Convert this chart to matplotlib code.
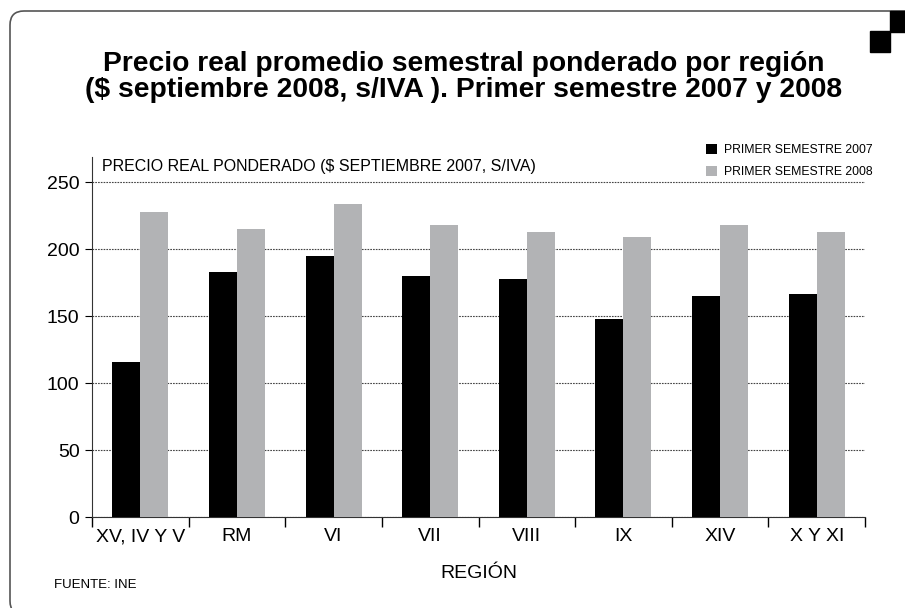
import matplotlib
matplotlib.use("Agg")
import matplotlib.pyplot as plt
from matplotlib.patches import FancyBboxPatch, Rectangle
import numpy as np

regions = ["XV, IV Y V", "RM", "VI", "VII", "VIII", "IX", "XIV", "X Y XI"]
sem_2007 = [116, 183, 195, 180, 178, 148, 165, 167]
sem_2008 = [228, 215, 234, 218, 213, 209, 218, 213]
series_names = ["PRIMER SEMESTRE 2007", "PRIMER SEMESTRE 2008"]
yticks = [0, 50, 100, 150, 200, 250]

plt.rcParams["font.family"] = ["Liberation Sans", "DejaVu Sans"]

W, H = 905, 608
fig = plt.figure(figsize=(W / 100, H / 100), dpi=100)
px = 1 / 100.0  # pixel -> inch

# rounded frame (in inch units so the corner is round) + black squares
frame = FancyBboxPatch((10 * px, (H - 615) * px), 950 * px, (615 - 11) * px,
                       boxstyle="round,pad=0,rounding_size=0.14",
                       transform=fig.dpi_scale_trans, fill=False,
                       edgecolor="#555555", linewidth=1.2)
fig.patches.append(frame)
fig.patches.append(Rectangle((890 / W, 1 - 32 / H), 15 / W, 21 / H,
                             transform=fig.transFigure, color="black"))
fig.patches.append(Rectangle((870 / W, 1 - 52 / H), 20 / W, 21 / H,
                             transform=fig.transFigure, color="black"))

fig.text(464 / W, 1 - 77 / H,
         "Precio real promedio semestral ponderado por región\n"
         "($ septiembre 2008, s/IVA ). Primer semestre 2007 y 2008",
         ha="center", va="center", fontsize=20.3, fontweight="bold", linespacing=1.0)

ax_top = 157
ax = fig.add_axes([92 / W, 91 / H, (865 - 92) / W, (517 - ax_top) / H])
x = np.arange(len(regions))
bw = 0.29
ax.bar(x - bw / 2, sem_2007, bw, color="black", label=series_names[0], zorder=3)
ax.bar(x + bw / 2, sem_2008, bw, color="#b2b3b5", label=series_names[1], zorder=3)

ax.set_xlim(-0.5, len(regions) - 0.5)
ax.set_ylim(0, 269)
ax.set_yticks(yticks)
ax.set_yticklabels([str(v) for v in yticks], fontsize=14)
ax.yaxis.grid(True, linestyle=(0, (1.5, 1)), color="#444444", linewidth=0.8, zorder=0)
ax.set_xticks(x)
ax.set_xticklabels(regions, fontsize=14)
ax.set_xticks(np.arange(len(regions) + 1) - 0.5, minor=True)
ax.tick_params(axis="x", which="major", length=0, pad=8)
ax.tick_params(axis="x", which="minor", length=7, width=1, direction="out")
ax.tick_params(axis="y", length=5, width=0.8, pad=4)
for s in ["top", "right"]:
    ax.spines[s].set_visible(False)
ax.spines["left"].set_color("#333333")
ax.spines["bottom"].set_color("#333333")

ax.set_xlabel("REGIÓN", fontsize=14, labelpad=14)
ax.text(10 / (865 - 92), 1 - 9 / (517 - ax_top),
        "PRECIO REAL PONDERADO ($ SEPTIEMBRE 2007, S/IVA)",
        transform=ax.transAxes, fontsize=11.5, va="center", ha="left")

fig.legend(loc="upper left", bbox_to_anchor=(700 / W, 1 - 138 / H), frameon=False,
           fontsize=8.8, handlelength=0.9, handleheight=0.9, handletextpad=0.6,
           labelspacing=0.75, borderpad=0)

fig.text(54 / W, 1 - 585 / H, "FUENTE: INE", fontsize=9.5, va="center", ha="left")

fig.savefig("out.png", dpi=100)
